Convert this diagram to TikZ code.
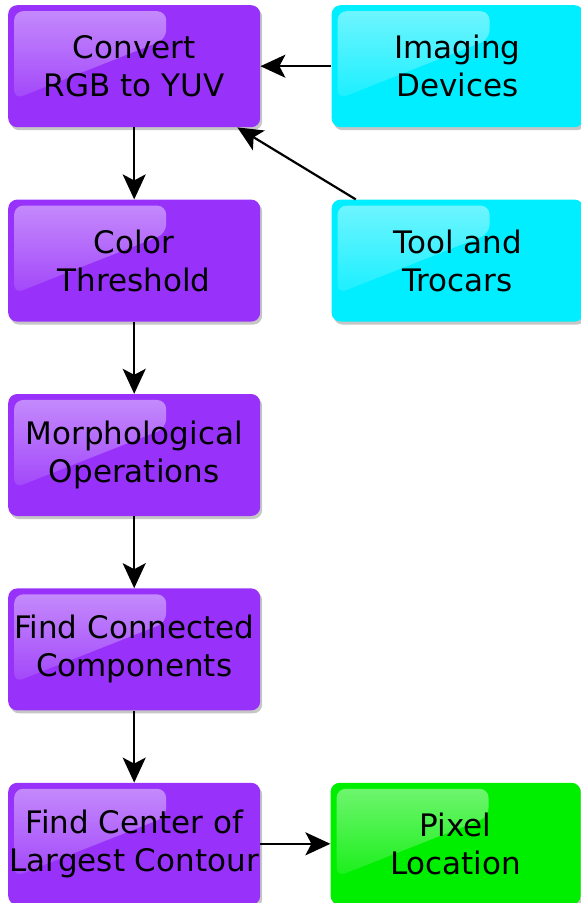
\documentclass[tikz,border=0pt]{standalone}
\usepackage{fontspec}
\setmainfont{DejaVu Sans}
\usetikzlibrary{arrows.meta,positioning,shadows,fadings}
\definecolor{procpurple}{RGB}{152,50,250}
\definecolor{srccyan}{RGB}{0,238,255}
\definecolor{outgreen}{RGB}{0,238,0}

\begin{document}
\begin{tikzpicture}[
  font=\fontsize{31}{38}\selectfont,
  node distance=72pt and 71pt,
  gloss/.style={path picture={
      \fill[white, fill opacity=0.45, path fading=south, rounded corners=9pt]
        ([xshift=6pt, yshift=-6pt]path picture bounding box.north west)
        -- ++(152pt,0) -- ++(0,-28pt)
        -- ([xshift=6pt, yshift=-94pt]path picture bounding box.north west) -- cycle;}},
  box/.style={rounded corners=9pt, align=center, minimum width=252pt,
              minimum height=122pt, inner sep=0pt, gloss,
              drop shadow={shadow xshift=2pt, shadow yshift=-3pt, opacity=0.45}},
  proc/.style={box, fill=procpurple},
  src/.style={box, fill=srccyan},
  result/.style={box, fill=outgreen, minimum width=250pt},
  arr/.style={-{Stealth[length=25pt, width=23pt, inset=6pt]}, line width=2.2pt}]
\useasboundingbox (0,0) rectangle (581pt,-903pt);
\node[proc, anchor=north west] (yuv) at (8pt,-5pt) {Convert\\RGB to YUV};
\node[proc, below=of yuv] (thresh) {Color\\Threshold};
\node[proc, below=of thresh] (morph) {Morphological\\Operations};
\node[proc, below=of morph] (comp) {Find Connected\\Components};
\node[proc, below=of comp] (center) {Find Center of\\Largest Contour};
\node[src, right=of yuv] (imaging) {Imaging\\Devices};
\node[src, right=of thresh] (tool) {Tool and\\Trocars};
\node[result, right=of center, xshift=-1pt] (pixel) {Pixel\\Location};
\draw[arr] (imaging) -- (yuv);
\draw[arr] ([xshift=-228pt]tool.north east) -- ([xshift=-23pt]yuv.south east);
\draw[arr] (yuv) -- (thresh);
\draw[arr] (thresh) -- (morph);
\draw[arr] (morph) -- (comp);
\draw[arr] (comp) -- (center);
\draw[arr] (center) -- (pixel);
\end{tikzpicture}
\end{document}
